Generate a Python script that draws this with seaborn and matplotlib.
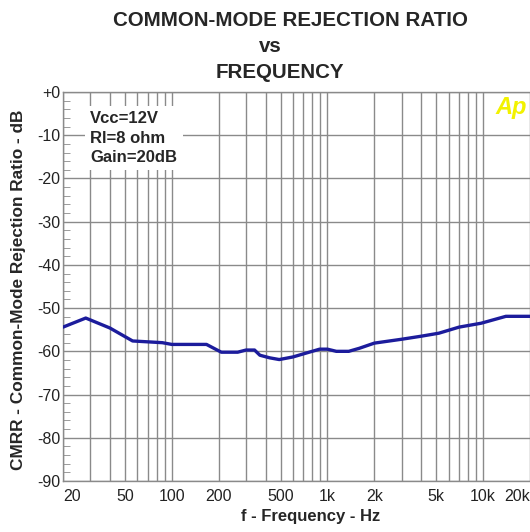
import matplotlib
matplotlib.use("Agg")
from matplotlib import pyplot as plt
from matplotlib.ticker import FixedLocator, MultipleLocator, NullFormatter
import pandas as pd
import seaborn as sns

# CMRR curve
freq_hz = [20, 28, 40, 56, 87, 100, 167, 208, 265, 300, 340, 368, 425, 490, 600,
           730, 890, 1000, 1140, 1370, 1600, 2000, 3000, 4000, 5200, 7000, 9700,
           14000, 20000]
cmrr_db = [-54.4, -52.3, -54.6, -57.6, -58.0, -58.4, -58.4, -60.2, -60.2, -59.7,
           -59.7, -60.9, -61.5, -61.9, -61.3, -60.4, -59.5, -59.5, -60.0, -60.0,
           -59.3, -58.1, -57.2, -56.5, -55.8, -54.4, -53.5, -51.9, -51.9]

x_ticks = [20, 50, 100, 200, 500, 1000, 2000, 5000, 10000, 20000]
x_labels = ["20", "50", "100", "200", "500", "1k", "2k", "5k", "10k", "20k"]
x_grid = [30, 40, 60, 70, 80, 90, 300, 400, 600, 700, 800, 900,
          3000, 4000, 6000, 7000, 8000, 9000]
y_ticks = [0, -10, -20, -30, -40, -50, -60, -70, -80, -90]
y_labels = ["+0", "-10", "-20", "-30", "-40", "-50", "-60", "-70", "-80", "-90"]
notes = ["Vcc=12V", "Rl=8 ohm", "Gain=20dB"]

sns.set_style("white")
plt.rcParams['font.family'] = ['Liberation Sans', 'DejaVu Sans']

df = pd.DataFrame({"freq": freq_hz, "cmrr": cmrr_db})

fig = plt.figure(figsize=(5.30, 5.32), dpi=100)
ax = fig.add_axes([63 / 530, 1 - 481 / 532, 467 / 530, 389 / 532])

grid_col = "#8a8a8a"
sns.lineplot(data=df, x="freq", y="cmrr", ax=ax, color="#1c1c9c", linewidth=2.4, zorder=5)

ax.set_xscale("log")
ax.set_xlim(20, 20000)
ax.set_ylim(-90, 0)

ax.xaxis.set_major_locator(FixedLocator(x_ticks))
ax.set_xticklabels(x_labels)
ax.xaxis.set_minor_locator(FixedLocator(x_grid))
ax.xaxis.set_minor_formatter(NullFormatter())
ax.set_yticks(y_ticks)
ax.set_yticklabels(y_labels)
ax.yaxis.set_minor_locator(MultipleLocator(2))

ax.grid(True, which="major", color=grid_col, linewidth=1.0)
ax.grid(True, which="minor", axis="x", color=grid_col, linewidth=1.0)
ax.tick_params(axis="x", which="both", length=0, pad=6, labelsize=11.5, labelcolor="#222222")
ax.tick_params(axis="y", which="major", length=0, pad=2, labelsize=11.5, labelcolor="#222222")
ax.tick_params(axis="y", which="minor", direction="in", length=5, color=grid_col, left=True)

for s in ["left", "top", "bottom"]:
    ax.spines[s].set_color(grid_col)
    ax.spines[s].set_linewidth(1.0)
ax.spines["right"].set_visible(False)

xl = ax.get_xticklabels()
xl[0].set_horizontalalignment("left")
xl[-1].set_horizontalalignment("right")

ax.set_xlabel("")
ax.set_ylabel("")
fig.text(19 / 530, 1 - 290 / 532, "CMRR - Common-Mode Rejection Ratio - dB", rotation=90,
         ha="center", va="center", fontsize=12.4, fontweight="bold")
fig.text(311 / 530, 1 - 517 / 532, "f - Frequency - Hz", ha="center", va="center",
         fontsize=12, fontweight="bold")

ax.text(0.058, 0.95, "\n".join(notes), transform=ax.transAxes, ha="left", va="top",
        fontsize=12, fontweight="bold", linespacing=1.35, zorder=6,
        bbox=dict(facecolor="white", edgecolor="none", pad=4))

fig.text(290 / 530, 1 - 21 / 532, "COMMON-MODE REJECTION RATIO", ha="center", va="center",
         fontsize=14.8, fontweight="bold")
fig.text(270 / 530, 1 - 47 / 532, "vs", ha="center", va="center", fontsize=14.8, fontweight="bold")
fig.text(280 / 530, 1 - 72 / 532, "FREQUENCY", ha="center", va="center", fontsize=14.8,
         fontweight="bold")

fig.text(511 / 530, 1 - 108 / 532, "Ap", ha="center", va="center", fontsize=17,
         fontweight="bold", fontstyle="italic", color="#f2f200")

fig.savefig("out.png", dpi=100)
